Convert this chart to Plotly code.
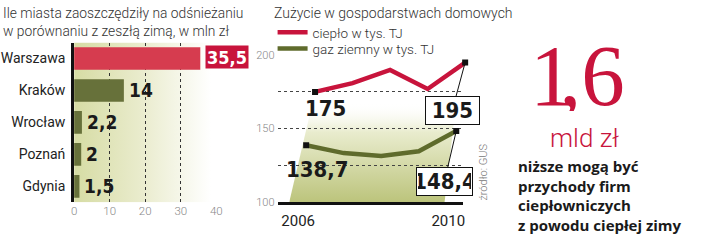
import base64
import plotly.graph_objects as go

# ---------------- data ----------------
cities = ["Warszawa", "Kraków", "Wrocław", "Poznań", "Gdynia"]
savings = [35.5, 14, 2.2, 2, 1.5]
savings_text = ["35,5", "14", "2,2", "2", "1,5"]
bar_ticks = [0, 10, 20, 30, 40]

years = [2006, 2007, 2008, 2009, 2010]
heat = [175, 181, 190, 177, 195]
gas = [138.7, 133.3, 131.4, 134.6, 148.4]
heat_text = ["175", "195"]
gas_text = ["138,7", "148,4"]
line_ticks = [100, 125, 150, 175, 200]
line_ticktext = ["100", "", "150", "", "200"]

W, H = 720, 244
def px(x):
    return x / W
def py(y):
    return 1 - y / H

SANS = "Roboto, 'Open Sans', sans-serif"
NARROW = "'Liberation Sans Narrow', 'Arial Narrow', 'DejaVu Sans Condensed', sans-serif"
RED = "#c8143c"
OLIVE = "#5f6b2c"

def svg_uri(svg):
    return "data:image/svg+xml;base64," + base64.b64encode(svg.encode("utf-8")).decode("ascii")

bg_svg = ("<svg xmlns='http://www.w3.org/2000/svg' viewBox='0 0 100 100' preserveAspectRatio='none' "
          "width='100' height='100'><defs><linearGradient id='g' x1='0' y1='0' x2='1' y2='0'>"
          "<stop offset='0' stop-color='#d6dca4'/><stop offset='0.5' stop-color='#eaecce'/>"
          "<stop offset='1' stop-color='#ffffff'/></linearGradient></defs>"
          "<rect x='0' y='0' width='100' height='100' fill='url(#g)'/></svg>")
area_svg = ("<svg xmlns='http://www.w3.org/2000/svg' viewBox='0 0 100 100' preserveAspectRatio='none' "
            "width='100' height='100'><defs><linearGradient id='a' x1='0' y1='0' x2='0' y2='1'>"
            "<stop offset='0' stop-color='#ffffff' stop-opacity='0'/>"
            "<stop offset='0.3' stop-color='#e9ecce'/>"
            "<stop offset='1' stop-color='#bcc47c'/></linearGradient></defs>"
            "<polygon points='0,100 14,0 100,0 93,100' fill='url(#a)'/></svg>")

fig = go.Figure()

# ---------------- bar chart ----------------
bar_colors = ["#d63c4f"] + ["#67713a"] * (len(cities) - 1)
fig.add_trace(go.Bar(
    x=savings, y=cities, orientation="h", width=0.71,
    marker=dict(color=bar_colors, line=dict(width=0)),
    xaxis="x", yaxis="y", showlegend=False, hoverinfo="skip",
))

annotations = []
for i, (c, v, t) in enumerate(zip(cities, savings, savings_text)):
    if i == 0:
        annotations.append(dict(
            x=v, y=c, xref="x", yref="y", text="<b>" + t + "</b>", showarrow=False,
            xanchor="left", yanchor="middle", xshift=5, yshift=2, width=40, height=20,
            bgcolor=RED, font=dict(family=NARROW, size=18, color="white"),
        ))
    else:
        annotations.append(dict(
            x=v, y=c, xref="x", yref="y", text="<b>" + t + "</b>", showarrow=False,
            xanchor="left", yanchor="middle", xshift=3,
            font=dict(family=NARROW, size=19, color="#1a1a1a"),
        ))

# ---------------- line chart ----------------
fig.add_trace(go.Scatter(
    x=years, y=heat, xaxis="x3", yaxis="y3", mode="lines", legend="legend",
    line=dict(color=RED, width=4.5), name="ciepło w tys. TJ", hoverinfo="skip",
))
fig.add_trace(go.Scatter(
    x=years, y=gas, xaxis="x2", yaxis="y2", mode="lines", legend="legend2",
    line=dict(color=OLIVE, width=4.5), name="gaz ziemny w tys. TJ", hoverinfo="skip",
))
fig.add_trace(go.Scatter(
    x=[years[0], years[-1]], y=[heat[0], heat[-1]], xaxis="x3", yaxis="y3", mode="markers",
    marker=dict(symbol="square", size=6, color="#111"), showlegend=False, hoverinfo="skip",
))
fig.add_trace(go.Scatter(
    x=[years[0], years[-1]], y=[gas[0], gas[-1]], xaxis="x2", yaxis="y2", mode="markers",
    marker=dict(symbol="square", size=6, color="#111"), showlegend=False, hoverinfo="skip",
))

num_font = dict(family=NARROW, size=22, color="#1a1a1a")
annotations += [
    dict(x=years[0], y=heat[0], xref="x3", yref="y3", text="<b>" + heat_text[0] + "</b>",
         showarrow=False, xshift=10, yshift=-17, font=num_font),
    dict(x=years[0], y=gas[0], xref="x2", yref="y2", text="<b>" + gas_text[0] + "</b>",
         showarrow=False, xshift=11, yshift=-24, font=num_font),
    dict(x=years[-1], y=heat[-1], xref="x3", yref="y3", text="<b>" + heat_text[1] + "</b>",
         showarrow=True, arrowhead=0, arrowwidth=1, arrowcolor="#111", ax=-13, ay=48,
         bgcolor="white", bordercolor="#111", borderwidth=1, width=51, height=25, font=num_font),
    dict(x=years[-1], y=gas[-1], xref="x2", yref="y2", text="<b>" + gas_text[1] + "</b>",
         showarrow=True, arrowhead=0, arrowwidth=1, arrowcolor="#111", ax=-12, ay=51,
         bgcolor="white", bordercolor="#111", borderwidth=1, width=53, height=25, font=num_font),
]

# ---------------- texts ----------------
annotations += [
    dict(xref="paper", yref="paper", x=px(0), y=py(-3), xanchor="left", yanchor="top",
         xshift=-2, align="left", showarrow=False,
         text="Ile miasta zaoszczędziły na odśnieżaniu<br>w porównaniu z zeszłą zimą, w mln zł",
         font=dict(family=SANS, size=13.8, weight=300, color="#333")),
    dict(xref="paper", yref="paper", x=px(272), y=py(-3), xanchor="left", yanchor="top",
         align="left", showarrow=False, text="Zużycie w gospodarstwach domowych",
         font=dict(family=SANS, size=14, weight=300, color="#333")),
    dict(xref="paper", yref="paper", x=px(487), y=py(175), xanchor="center", yanchor="middle",
         textangle=-90, showarrow=False,
         text="źródło: GUS", font=dict(family=SANS, size=11, weight=300, color="#777")),
    dict(xref="paper", yref="paper", x=px(582), y=py(73), xanchor="center", yanchor="middle",
         height=72, valign="middle",
         showarrow=False, text="<span style='letter-spacing:-14px'>1</span>,6",
         font=dict(family="'Liberation Serif', serif", size=87, color=RED)),
    dict(xref="paper", yref="paper", x=px(589), y=py(139), xanchor="center", yanchor="middle",
         showarrow=False, text="mld zł",
         font=dict(family=SANS, size=26, weight=300, color=RED)),
    dict(xref="paper", yref="paper", x=px(519), y=py(156), xanchor="left", yanchor="top",
         align="left", showarrow=False,
         text="niższe mogą być<br>przychody firm<br>ciepłowniczych<br>z powodu ciepłej zimy",
         font=dict(family="'Open Sans', Roboto, sans-serif", size=15, weight=700, color="#1a1a1a")),
]

images = [
    dict(source=svg_uri(bg_svg), xref="x", yref="y domain", x=0, y=1, sizex=38.5, sizey=1,
         xanchor="left", yanchor="top", sizing="stretch", layer="below"),
    dict(source=svg_uri(area_svg), xref="x2", yref="y2", x=years[0] - 0.45, y=168,
         sizex=(years[-1] - years[0]) + 0.45, sizey=168 - line_ticks[0],
         xanchor="left", yanchor="top", sizing="stretch", layer="below"),
]

legend_font = dict(family=SANS, size=13.5, weight=300, color="#333")
line_range = [2005.237, 2010.184]
fig.update_layout(
    width=W, height=H, margin=dict(l=0, r=0, t=0, b=0),
    paper_bgcolor="white", plot_bgcolor="rgba(0,0,0,0)",
    font=dict(family=SANS),
    xaxis=dict(domain=[px(72), px(216)], range=[0, 40], anchor="y", tickvals=bar_ticks,
               showgrid=True, gridcolor="#333", griddash="dot", gridwidth=1,
               zeroline=False, showline=False, ticks="",
               tickfont=dict(family=SANS, size=11.5, weight=300, color="#888")),
    yaxis=dict(domain=[py(207.4), py(38.6)], range=[4.5, -0.5], type="category", anchor="x",
               showline=True, linecolor="#111", linewidth=3, ticks="", showgrid=False,
               zeroline=False, ticklabelstandoff=3,
               tickfont=dict(family=SANS, size=14, color="#222")),
    xaxis2=dict(domain=[px(278), px(466)], range=line_range, anchor="y2", tickvals=[years[0], years[-1]],
                showgrid=False, zeroline=False, showline=True, linecolor="#111", linewidth=2.5,
                ticks="", ticklabelshift=-8, ticklabelstandoff=3,
                tickfont=dict(family=SANS, size=15, color="#222")),
    yaxis2=dict(domain=[py(207), py(52)], range=[100, 200], anchor="x2", tickvals=line_ticks,
                ticktext=line_ticktext, showgrid=True, gridcolor="#444", griddash="dot", gridwidth=1,
                zeroline=False, showline=False, ticks="", ticklabelstandoff=2,
                tickfont=dict(family=SANS, size=11, weight=300, color="#888")),
    xaxis3=dict(domain=[px(287), px(475)], range=line_range, anchor="y3", visible=False),
    yaxis3=dict(domain=[py(207), py(52)], range=[100, 200], anchor="x3", visible=False),
    legend=dict(x=px(273), y=py(28), xanchor="left", yanchor="middle", bgcolor="rgba(0,0,0,0)",
                font=legend_font, itemwidth=30),
    legend2=dict(x=px(273), y=py(45), xanchor="left", yanchor="middle", bgcolor="rgba(0,0,0,0)",
                 font=legend_font, itemwidth=30),
    annotations=annotations,
    images=images,
)

fig.write_html("out.html")
